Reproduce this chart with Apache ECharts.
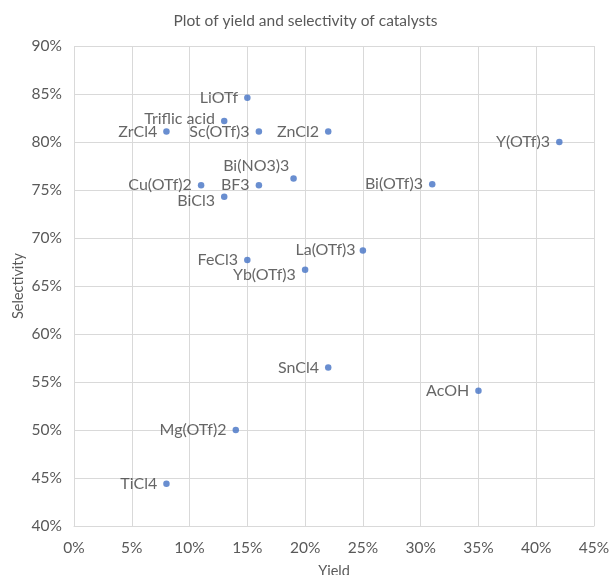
<!DOCTYPE html>
<html>
<head>
<meta charset="utf-8">
<script src="https://cdn.jsdelivr.net/npm/echarts@6/dist/echarts.min.js"></script>
<style>html,body{margin:0;padding:0;background:#fff;}#c{width:611px;height:575px;}</style>
</head>
<body>
<div id="c"></div>
<script>
const catalysts = ['LiOTf','Triflic acid','ZrCl4','Sc(OTf)3','ZnCl2','Y(OTf)3','Bi(NO3)3','Cu(OTf)2','BF3','Bi(OTf)3','BiCl3','La(OTf)3','FeCl3','Yb(OTf)3','SnCl4','AcOH','Mg(OTf)2','TiCl4'];
const yieldPct = [15,13,8,16,22,42,19,11,16,31,13,25,15,20,22,35,14,8];
const selectivityPct = [84.6,82.2,81.1,81.1,81.1,80.0,76.2,75.5,75.5,75.6,74.3,68.7,67.7,66.7,56.5,54.1,50.0,44.4];
const xTicks = [0,5,10,15,20,25,30,35,40,45];
const yTicks = [40,45,50,55,60,65,70,75,80,85,90];

// label placement tweaks (text offsets)
const labelOffsets = {
  'Triflic acid': [0,-2],
  'Bi(NO3)3': [5,-13],
  'BiCl3': [0,4],
  'La(OTf)3': [2,-1],
  'Yb(OTf)3': [0,5]
};

const data = catalysts.map((n,i)=>{
  const off = labelOffsets[n] || [0,0];
  return {name:n, value:[yieldPct[i], selectivityPct[i]], label:{offset:off}};
});

const chart = echarts.init(document.getElementById('c'));
const FONT = 'Lato';
chart.setOption({
  animation:false,
  title:{text:'Plot of yield and selectivity of catalysts', left:'center', top:8,
    textStyle:{fontFamily:FONT, fontSize:15.5, fontWeight:'normal', color:'#595959'}},
  grid:{left:74, right:17, top:46, bottom:49, outerBoundsMode:'none', containLabel:false},
  xAxis:{type:'value', min:xTicks[0], max:xTicks[xTicks.length-1], interval:5,
    name:'Yield', nameLocation:'middle', nameGap:38, nameMoveOverlap:false,
    nameTextStyle:{fontFamily:FONT, fontSize:14.5, color:'#595959'},
    axisLine:{show:true, lineStyle:{color:'#d9d9d9'}}, axisTick:{show:false},
    axisLabel:{formatter:v=>v+'%', fontFamily:FONT, fontSize:15.5, color:'#595959', margin:14},
    splitLine:{show:true, lineStyle:{color:'#d9d9d9'}}},
  yAxis:{type:'value', min:yTicks[0], max:yTicks[yTicks.length-1], interval:5,
    name:'Selectivity', nameLocation:'middle', nameGap:48, nameMoveOverlap:false,
    nameTextStyle:{fontFamily:FONT, fontSize:14.5, color:'#595959'},
    axisLine:{show:false}, axisTick:{show:false},
    axisLabel:{formatter:v=>v+'%', fontFamily:FONT, fontSize:15.5, color:'#595959', margin:12},
    splitLine:{show:true, lineStyle:{color:'#d9d9d9'}}},
  series:[{type:'scatter', data:data, symbol:'circle', symbolSize:6.5,
    itemStyle:{color:'#4472C4'},
    label:{show:true, position:'left', distance:6, formatter:p=>p.name,
      fontFamily:FONT, fontSize:16, color:'#404040'}}]
});
</script>
</body>
</html>
